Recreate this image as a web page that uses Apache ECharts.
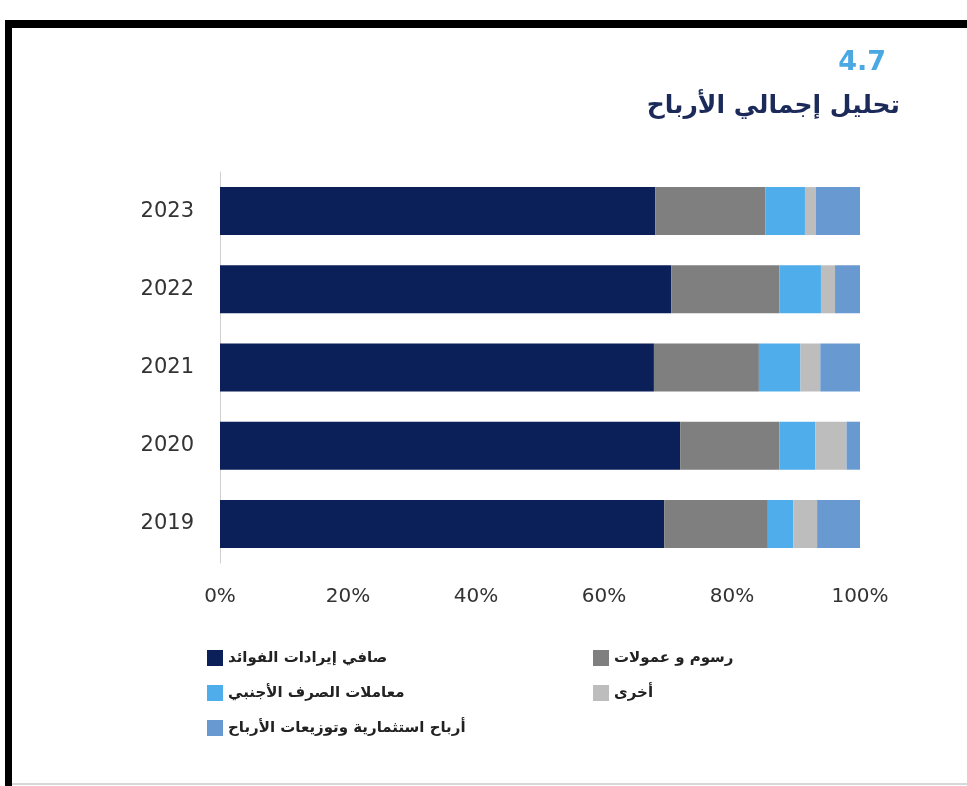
<!DOCTYPE html>
<html>
<head>
<meta charset="utf-8">
<script src="https://cdn.jsdelivr.net/npm/echarts@6/dist/echarts.min.js"></script>
<style>
html, body { margin: 0; padding: 0; background: #fff; }
#chart { width: 967px; height: 786px; }
</style>
</head>
<body>
<div id="chart"></div>
<script>
var years = ['2019', '2020', '2021', '2022', '2023'];
var names = ['صافي إيرادات الفوائد', 'رسوم و عمولات', 'معاملات الصرف الأجنبي', 'أخرى', 'أرباح استثمارية وتوزيعات الأرباح'];
var netInterest = [69.4, 71.9, 67.8, 70.5, 68.0];
var feesCommissions = [16.2, 15.5, 16.4, 16.9, 17.2];
var fxTrading = [4.0, 5.6, 6.5, 6.5, 6.2];
var others = [3.7, 4.9, 3.1, 2.2, 1.7];
var investIncome = [6.7, 2.1, 6.2, 3.9, 6.9];
var colors = ['#0b1f58', '#7f7f7f', '#4eadea', '#bdbdbd', '#6999d1'];

var chart = echarts.init(document.getElementById('chart'));

var seriesData = [netInterest, feesCommissions, fxTrading, others, investIncome];
var series = seriesData.map(function (d, i) {
    return {
        name: names[i],
        type: 'bar',
        stack: 'total',
        barWidth: 48,
        data: d,
        itemStyle: { color: colors[i] }
    };
});

var legendText = { fontFamily: 'DejaVu Sans', fontSize: 15, fontWeight: 'bold', color: '#222' };

option = {
    backgroundColor: '#fff',
    animation: false,
    color: colors,
    title: [
        {
            text: '4.7',
            right: 76, top: 44,
            textStyle: { color: '#4aa8e2', fontSize: 27, fontWeight: 'bold', fontFamily: 'DejaVu Sans' }
        },
        {
            text: 'تحليل إجمالي الأرباح',
            right: 62, top: 89,
            textStyle: { color: '#1c2a5a', fontSize: 25, fontWeight: 'bold', fontFamily: 'DejaVu Sans' }
        }
    ],
    legend: [
        {
            data: [names[0], names[2], names[4]],
            orient: 'vertical',
            left: 202, top: 645,
            itemWidth: 16, itemHeight: 16, itemGap: 19,
            icon: 'rect',
            textStyle: legendText
        },
        {
            data: [names[1], names[3]],
            orient: 'vertical',
            left: 588, top: 645,
            itemWidth: 16, itemHeight: 16, itemGap: 19,
            icon: 'rect',
            textStyle: legendText
        }
    ],
    grid: { left: 220, right: 107, top: 172, bottom: 223 },
    xAxis: {
        type: 'value',
        min: 0, max: 100, interval: 20,
        axisLabel: { formatter: '{value}%', fontSize: 20, color: '#333', fontFamily: 'DejaVu Sans', margin: 24 },
        splitLine: { show: false },
        axisLine: { show: false },
        axisTick: { show: false }
    },
    yAxis: {
        type: 'category',
        data: years,
        axisLabel: { fontSize: 21, color: '#333', fontFamily: 'DejaVu Sans', margin: 26 },
        axisLine: { show: true, lineStyle: { color: '#d0d0d0', width: 1 } },
        axisTick: { show: false }
    },
    graphic: [
        { type: 'rect', shape: { x: 5, y: 20, width: 962, height: 8 }, style: { fill: '#000' } },
        { type: 'rect', shape: { x: 5, y: 20, width: 7, height: 766 }, style: { fill: '#000' } },
        { type: 'rect', shape: { x: 12, y: 783, width: 955, height: 2 }, style: { fill: '#d8d8d8' } }
    ],
    series: series
};
chart.setOption(option);
</script>
</body>
</html>
